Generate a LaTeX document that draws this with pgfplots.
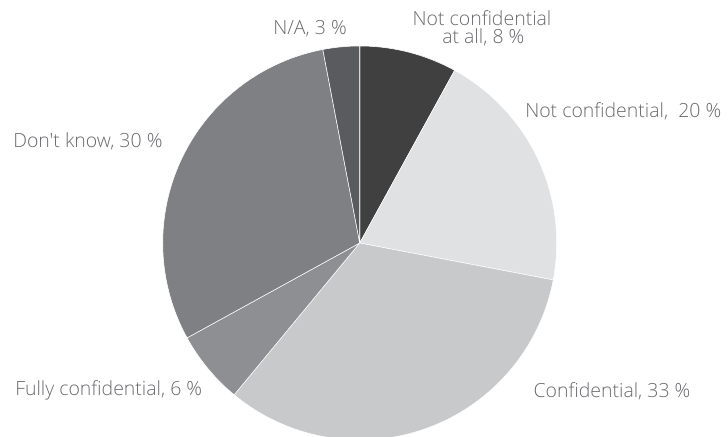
\documentclass[border=0pt]{standalone}
\usepackage{pgfplots}
\pgfplotsset{compat=1.18}
\usepackage{fontspec}
\setmainfont{Open Sans}[UprightFont=* Light, Ligatures=TeXOff]
\definecolor{sA}{RGB}{64,64,64}
\definecolor{sB}{RGB}{224,225,227}
\definecolor{sC}{RGB}{200,201,203}
\definecolor{sD}{RGB}{142,143,146}
\definecolor{sE}{RGB}{127,128,132}
\definecolor{sF}{RGB}{90,91,94}
\definecolor{txt}{RGB}{105,106,109}
% shares in percent, clockwise from the top
\def\pA{8}\def\pB{20}\def\pC{33}\def\pD{6}\def\pE{30}\def\pF{3}
\begin{document}
\begin{tikzpicture}
\useasboundingbox (0,0) rectangle (546pt,327pt);
\clip (0,0) rectangle (546pt,327pt);
\pgfmathsetmacro\aA{90-3.6*\pA}
\pgfmathsetmacro\aB{\aA-3.6*\pB}
\pgfmathsetmacro\aC{\aB-3.6*\pC}
\pgfmathsetmacro\aD{\aC-3.6*\pD}
\pgfmathsetmacro\aE{\aD-3.6*\pE}
\pgfmathsetmacro\aF{\aE-3.6*\pF}
\begin{axis}[at={(269.8pt,144.75pt)}, anchor=origin,
  x=147.75pt, y=147.75pt, xmin=-1, xmax=1, ymin=-1, ymax=1,
  hide axis, clip=false]
\addplot[fill=sA, draw=white, line width=0.4pt, domain=\aA:90, samples=40] ({cos(x)},{sin(x)}) -- (0,0) -- cycle;
\addplot[fill=sB, draw=white, line width=0.4pt, domain=\aB:\aA, samples=80] ({cos(x)},{sin(x)}) -- (0,0) -- cycle;
\addplot[fill=sC, draw=white, line width=0.4pt, domain=\aC:\aB, samples=120] ({cos(x)},{sin(x)}) -- (0,0) -- cycle;
\addplot[fill=sD, draw=white, line width=0.4pt, domain=\aD:\aC, samples=30] ({cos(x)},{sin(x)}) -- (0,0) -- cycle;
\addplot[fill=sE, draw=white, line width=0.4pt, domain=\aE:\aD, samples=120] ({cos(x)},{sin(x)}) -- (0,0) -- cycle;
\addplot[fill=sF, draw=white, line width=0.4pt, domain=\aF:\aE, samples=20] ({cos(x)},{sin(x)}) -- (0,0) -- cycle;
\end{axis}
\begin{scope}[every node/.style={font=\fontsize{14.6}{17}\selectfont, text=txt, inner sep=0pt}]
\node[anchor=base west] at (204.75pt,300.75pt) {N/A, 3 \%};
\node[anchor=base] at (361.5pt,307.7pt) {Not confidential};
\node[anchor=base] at (362.5pt,294pt) {at all, 8 \%};
\node[anchor=base west] at (393.75pt,239pt) {Not confidential,\ \ 20 \%};
\node[anchor=base west] at (9.75pt,216.2pt) {Don't know, 30 \%};
\node[anchor=base west] at (11.25pt,30.2pt) {Fully confidential, 6 \%};
\node[anchor=base west] at (400pt,29.25pt) {Confidential, 33 \%};
\end{scope}
\end{tikzpicture}
\end{document}
